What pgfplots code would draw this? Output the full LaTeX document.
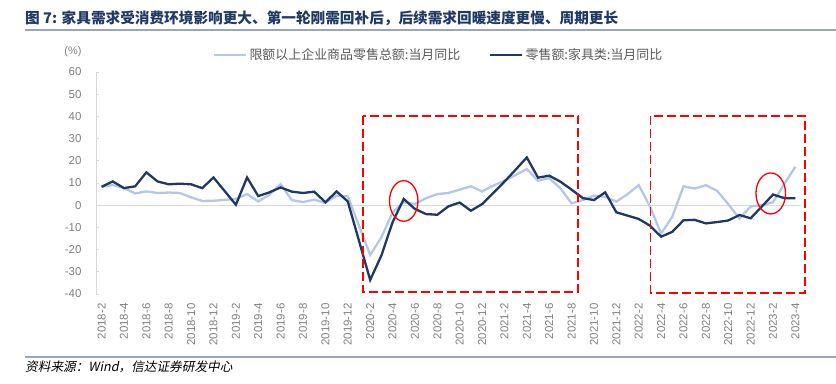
\documentclass[border=0pt]{standalone}
\usepackage{pgfplots}
\pgfplotsset{compat=1.18}
\usepackage{fontspec}
\setmainfont{Liberation Sans}
\newfontfamily\cjk{Noto Sans CJK SC}
\newfontfamily\cjkslant[FakeSlant=0.2]{Noto Sans CJK SC}
\definecolor{navy}{HTML}{1F3864}
\definecolor{lightblue}{HTML}{B4C7E7}
\definecolor{ticktext}{HTML}{808080}
\definecolor{rulecol}{HTML}{9AA6BC}
\definecolor{legtext}{HTML}{595959}
\definecolor{axgray}{HTML}{D9D9D9}

\pgfplotstableread{
x y
0 8.2
1 9.1
2 7.7
3 5.3
4 6.2
5 5.5
6 5.7
7 5.5
8 3.5
9 1.9
10 2.0
12 2.8
13 5.0
14 1.7
15 4.7
16 9.5
17 2.3
18 1.4
19 2.5
20 1.0
21 4.3
22 4.0
24 -22.4
25 -14.5
26 -3.2
27 1.3
28 0.5
29 3.2
30 5.0
31 5.5
32 7.0
33 8.5
34 6.2
35 8.8
36 11.0
37 13.6
38 16.3
39 11.0
40 12.2
41 7.6
42 0.8
43 2.3
44 4.3
45 3.8
46 1.6
47 5.0
48 9.0
49 -0.5
50 -12.8
51 -5.2
52 8.5
53 7.5
54 9.0
55 6.5
56 0.5
57 -6.0
58 -0.6
59 0.1
60 1.3
61 9.5
62 17.3
}\totalretail

\pgfplotstableread{
x y
0 8.3
1 10.7
2 7.7
3 8.5
4 14.8
5 10.7
6 9.4
7 9.7
8 9.4
9 7.7
10 12.5
12 0.2
13 12.5
14 4.1
15 5.8
16 8.0
17 6.1
18 5.5
19 6.1
20 1.3
21 6.2
22 1.7
24 -33.7
25 -22.7
26 -7.7
27 2.8
28 -1.7
29 -4.0
30 -4.3
31 -0.5
32 1.2
33 -2.5
34 0.5
35 5.5
36 10.6
37 16.0
38 21.5
39 12.4
40 13.3
41 10.6
42 7.0
43 3.2
44 2.3
45 5.8
46 -3.2
47 -4.7
48 -6.2
49 -9.2
50 -14.2
51 -12.0
52 -6.8
53 -6.6
54 -8.2
55 -7.6
56 -6.9
57 -4.4
58 -5.9
59 -0.6
60 4.8
61 3.2
62 3.1
}\furniture

\begin{document}
\begin{tikzpicture}
\useasboundingbox (0,0) rectangle (836bp,384bp);
\node[anchor=west, inner sep=0pt, text=navy, font=\cjk\bfseries\fontsize{14.7}{16}\selectfont] at (25bp,366bp) {图 7: 家具需求受消费环境影响更大、第一轮刚需回补后，后续需求回暖速度更慢、周期更长};
\draw[rulecol, line width=2bp] (25bp,354bp) -- (836bp,354bp);
\draw[rulecol, line width=2bp] (25bp,27bp) -- (836bp,27bp);
\node[anchor=west, inner sep=0pt, font=\cjkslant\fontsize{12.7}{14}\selectfont] at (25bp,17bp) {资料来源：Wind，信达证券研发中心};
\node[text=ticktext, inner sep=0pt, font=\fontsize{11}{13}\selectfont] at (73bp,332bp) {(\%)};

\begin{axis}[
  at={(96bp,90bp)}, anchor=south west,
  scale only axis, width=705bp, height=222bp,
  xmin=-0.5, xmax=62.5, ymin=-40, ymax=60,
  ytick={-40,-30,...,60},
  xtick={0,2,...,62},
  xticklabels={2018-2,2018-4,2018-6,2018-8,2018-10,2018-12,2019-2,2019-4,2019-6,2019-8,2019-10,2019-12,2020-2,2020-4,2020-6,2020-8,2020-10,2020-12,2021-2,2021-4,2021-6,2021-8,2021-10,2021-12,2022-2,2022-4,2022-6,2022-8,2022-10,2022-12,2023-2,2023-4},
  xticklabel style={rotate=90, anchor=east},
  xticklabel shift=6bp,
  yticklabel shift=11bp,
  axis y line*=left, axis x line*=bottom,
  x axis line style={draw=none},
  y axis line style={draw=axgray, line width=0.8bp},
  tick align=inside, major tick length=2.5bp,
  ytick style={draw=axgray, line width=0.8bp},
  xtick style={draw=none},
  tick label style={text=ticktext, font=\fontsize{11.5}{13}\selectfont},
  /pgf/number format/assume math mode=true,
  extra y ticks={0}, extra y tick labels={},
  extra y tick style={grid=major, grid style={draw=axgray, line width=0.8bp}, major tick length=0pt},
  clip=false,
  legend columns=2,
  legend style={at={(axis description cs:0.166,1.077)}, anchor=west, draw=none, fill=none, inner sep=0pt,
    font=\cjk\fontsize{13}{15}\selectfont, text=legtext,
    /tikz/every even column/.append style={column sep=27bp}},
  legend image code/.code={\draw[#1] (0bp,0bp) -- (32bp,0bp);},
]
\addplot[lightblue, line width=2.3bp] table[x=x, y=y] {\totalretail};
\addlegendentry{限额以上企业商品零售总额:当月同比}
\addplot[navy, line width=2.3bp] table[x=x, y=y] {\furniture};
\addlegendentry{零售额:家具类:当月同比}

\draw[red, line width=1.8bp, dash pattern=on 9bp off 4bp] (axis cs:23.35,40.3) rectangle (axis cs:42.6,-39.0);
\draw[red, line width=1.8bp, dash pattern=on 9bp off 4bp] (axis cs:49.05,40.0) rectangle (axis cs:62.85,-39.6);
\draw[red, line width=1.3bp] (axis cs:27.0,1.9) ellipse [x radius=14.2bp, y radius=20.3bp];
\draw[red, line width=1.3bp] (axis cs:59.8,5.3) ellipse [x radius=14.8bp, y radius=20.5bp];
\end{axis}
\end{tikzpicture}
\end{document}
